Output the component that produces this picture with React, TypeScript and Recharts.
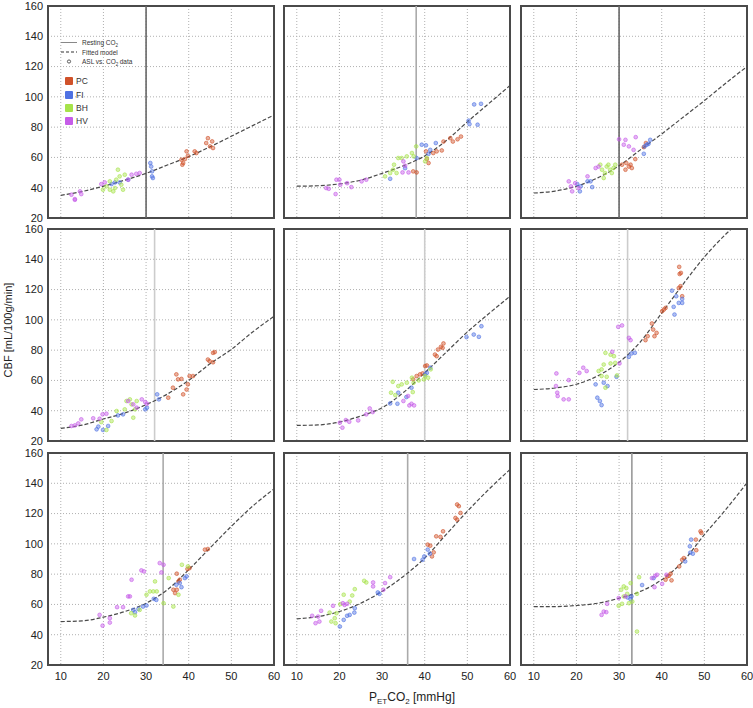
import {
  ComposedChart,
  Scatter,
  Line,
  XAxis,
  YAxis,
  ZAxis,
  CartesianGrid,
  ReferenceLine,
  ReferenceArea,
} from "recharts";

const xTicks = [10, 20, 30, 40, 50, 60];
const yTicks = [20, 40, 60, 80, 100, 120, 140, 160];

const groupNames = ["PC", "FI", "BH", "HV"];
const groupColors = ["#d0522a", "#4f72e3", "#a6e34a", "#c65ce8"];

// resting CO2 per panel (row by row)
const restValues = [30, 38, 30, 32, 40, 32, 34, 36, 33];
const restColors = ["#666", "#aaa", "#666", "#ccc", "#ccc", "#ccc", "#aaa", "#aaa", "#999"];

// fitted model curves
const fit1 = [[10, 35], [15, 37.5], [20, 41], [25, 45], [30, 49.5], [35, 55], [40, 60.5], [45, 67], [50, 74], [55, 81], [60, 88]];
const fit2 = [[10, 41], [15, 41.3], [20, 42.5], [25, 45], [30, 49.5], [35, 54.5], [40, 61], [45, 71], [50, 83.5], [55, 95.5], [60, 107.5]];
const fit3 = [[10, 36.5], [15, 37.8], [20, 41], [25, 46.5], [30, 54.5], [35, 65], [40, 75.5], [45, 86.5], [50, 97.5], [55, 109], [60, 120]];
const fit4 = [[10, 28.4], [15, 30.5], [20, 34.5], [25, 38.5], [30, 44], [35, 51], [40, 60], [45, 71], [50, 80.5], [55, 92], [60, 102.4]];
const fit5 = [[10, 30.3], [15, 30.6], [20, 32.5], [25, 36.5], [30, 42], [35, 52], [40, 65], [45, 78.5], [50, 92], [55, 104], [60, 115.6]];
const fit6 = [[10, 54], [15, 55], [20, 57.5], [25, 63], [30, 72], [35, 85.5], [40, 104.5], [45, 123.5], [50, 141.5], [55, 156.5], [56.5, 160.5]];
const fit7 = [[10, 48.7], [15, 49.1], [20, 51.6], [25, 55.3], [30, 60.8], [35, 69.7], [40, 82.9], [45, 97.3], [50, 111.6], [55, 124.9], [60, 136.3]];
const fit8 = [[10, 50.5], [15, 52], [20, 55.3], [25, 60.8], [30, 68.6], [35, 78.5], [40, 90.6], [45, 106.1], [50, 121.5], [55, 135.9], [60, 149.1]];
const fit9 = [[10, 58.6], [15, 58.6], [20, 59.3], [25, 60.8], [30, 64.1], [35, 68.6], [40, 76.3], [45, 88.4], [50, 106.1], [55, 122.6], [60, 140.3]];

// ASL vs CO2 data, [PETCO2, CBF]
const pc1 = [[38.3, 58.5], [38.7, 56.3], [39.1, 58.9], [39.5, 64], [39.8, 61], [41.8, 62.9], [41.4, 64], [44.1, 69.5], [44.5, 72.7], [45, 67.3], [45.5, 70.6], [45.7, 66.2], [38.5, 55.2]];
const fi1 = [[21.9, 42.4], [23.8, 43.5], [25.8, 45.3], [31, 56.3], [31.2, 54], [31.4, 47.5], [31.6, 46.4], [31.4, 50.8], [22.7, 43.5]];
const bh1 = [[20.7, 40.9], [21.5, 38.7], [22.7, 39.8], [23.4, 51.9], [23.8, 47.5], [23, 45.3], [25, 48.6], [24.2, 42], [21.5, 44.2], [22.3, 37.6], [19.9, 38.7], [24.6, 38.7]];
const hv1 = [[12.5, 35.4], [13.3, 32.5], [14.5, 37.6], [14.8, 35.8], [19.5, 42.4], [20.3, 43.5], [25.8, 45.3], [26.6, 48.6], [27.7, 49.2], [28.5, 49.7], [13.3, 32]];

const pc2 = [[37.3, 50.8], [38.1, 50.1], [40.5, 59], [40.9, 56.3], [42, 62.9], [42.8, 64], [44, 64.6], [44.4, 70.5], [46, 72.7], [46.6, 70.5], [47.7, 72], [48.5, 73.8], [40.3, 64]];
const fi2 = [[31.9, 45.9], [35.4, 52.9], [38.1, 59.6], [39.3, 68.4], [40.3, 68], [41.3, 65], [42.6, 69.5], [40.9, 62.4], [50.3, 84.3], [51.6, 95], [53.2, 95.4], [52.4, 81.6], [50.5, 82]];
const bh2 = [[30.7, 47.5], [31.9, 49.7], [32.8, 55.2], [33.8, 59.6], [34.6, 59.6], [35.8, 60.7], [37, 62.9], [38, 67.3], [32.6, 51.9], [33.4, 49.7], [37.4, 60.7], [40.1, 57.4], [40.5, 59.6]];
const hv2 = [[16.9, 39.8], [17.5, 39.3], [19.3, 45.3], [20, 45.3], [19.1, 35.8], [22.8, 40.4], [21.8, 43], [25.2, 44.2], [26.3, 45.3], [35, 57.4], [34.8, 50.1], [36.2, 50.1], [35.4, 54.5], [20.2, 42]];

const pc3 = [[30.7, 55.2], [31.5, 51.9], [32.3, 54], [32.7, 55.2], [33, 53], [33.8, 58.9], [35.8, 66.8], [36.3, 69.5], [31.7, 56.3]];
const fi3 = [[20.2, 42.4], [21, 40.9], [20.8, 37.6], [22.6, 44.2], [23.3, 44.2], [23.7, 40.4], [35.8, 62.4], [36, 67.3], [36.5, 68.4], [37.3, 71.6], [36.9, 69]];
const bh3 = [[25.6, 55.2], [26, 51.9], [26.7, 49.7], [27.5, 55.2], [28.3, 49.7], [28.7, 53], [29.1, 55.2], [26.4, 46.4], [27.9, 51.9], [27.1, 54]];
const hv3 = [[18.2, 44.2], [18.7, 40.9], [19, 37.6], [19.7, 43], [20.5, 39.8], [22.6, 47.5], [24.5, 53], [25.2, 54], [30, 72], [31.5, 71.6], [31.1, 68.4], [32.3, 67.3], [33.9, 73.4], [33.4, 65]];

const pc4 = [[35.2, 48.6], [36.3, 55.2], [37.1, 64], [37.5, 60.7], [38.3, 61], [38.7, 50.8], [39.5, 54], [39.8, 57.4], [40.2, 62.9], [41, 62.9], [44.5, 73.8], [44.9, 72.7], [45.7, 72], [45.7, 78.2], [46.1, 78.7]];
const fi4 = [[18.4, 27.7], [18.8, 29.5], [19.9, 27.3], [21.1, 29.9], [23.4, 36.9], [24.6, 37.6], [29.8, 40.9], [30.2, 42], [32.6, 50.8], [33, 47.5]];
const bh4 = [[19.5, 32.5], [20.7, 27.3], [21.9, 33.2], [23.1, 39.8], [25.4, 46.4], [26.2, 47.5], [26.6, 44.2], [27, 35.4], [27.4, 40.9], [25, 40.9], [27.8, 46.4]];
const hv4 = [[12.5, 29.9], [13.3, 30.3], [14.1, 31.6], [14.8, 34.3], [17.6, 35], [19.1, 34.7], [19.8, 37.6], [20.7, 38], [25.8, 46.4], [27, 44.2], [27.8, 42], [29, 47.5], [29.8, 45.7], [30.2, 44.6]];

const pc5 = [[37.3, 60.7], [38.1, 62.9], [38.9, 64], [39.5, 64.6], [40.1, 69.5], [40.5, 69.9], [42.4, 77.1], [43.1, 80.4], [43.8, 82.2], [44.4, 84.4], [44.2, 81.5], [42.8, 76]];
const fi5 = [[31.9, 44.8], [33.8, 51.9], [33.6, 44.6], [35.7, 49], [36.9, 55.2], [40.1, 64], [41.3, 68.4], [49.8, 88.6], [51.5, 90.3], [52.7, 88.8], [53.3, 95.8], [40.5, 65]];
const bh5 = [[32.5, 59.1], [32.1, 51.9], [33.1, 50.3], [33.8, 56.3], [34.6, 57.4], [35.8, 58.5], [37, 61.8], [37.4, 58.5], [38.6, 60], [39.8, 60.7], [40.1, 62.9], [40.8, 61.8], [41.4, 67.3], [37.2, 52.3]];
const hv5 = [[20.1, 32.1], [20.7, 28.8], [21.5, 33.8], [22.3, 32.7], [24.4, 33.6], [26.3, 37.6], [27.1, 41.5], [27.8, 39.1], [35, 46.4], [36.4, 43.5], [36.9, 44.6], [37.5, 43.5], [36.1, 49.7]];

const pc6 = [[36.2, 86.6], [36.7, 89.2], [37.7, 97.6], [38, 93.6], [38.3, 89.2], [38.8, 91.4], [40.1, 105.7], [40.5, 106.8], [40.9, 107.9], [44, 121], [44.4, 122.2], [44.2, 130.3], [44.5, 131], [44.1, 135], [44.8, 115.6]];
const fi6 = [[24.5, 57.4], [24.9, 48.6], [25.5, 46.4], [25.9, 43.7], [26.4, 58.5], [27.3, 56.3], [29.4, 62.4], [32.3, 75.6], [32.9, 77.8], [33.7, 78.2], [42.4, 119.3], [43.4, 115.6], [44, 111.2], [44.8, 113.8], [42.8, 108.6], [44.8, 111.2], [43, 103.5]];
const bh6 = [[25.2, 66.2], [25.9, 67.3], [26.4, 70.5], [26.8, 78.2], [28, 77], [28, 71.2], [28.8, 76], [27.1, 62.4], [26.8, 55.2], [29.5, 63.3], [29.1, 71.6], [25.9, 62.9]];
const hv6 = [[15.3, 64.6], [15.2, 56.3], [15.5, 51.9], [15.6, 49.7], [17, 47.5], [18.2, 47.5], [18.2, 60.2], [20.7, 65], [21.6, 68.4], [22.4, 66.2], [28.4, 78.9], [29.8, 95.4], [30.7, 96.3], [32.3, 88.1], [32.7, 86.6], [30.1, 71.2]];

const pc7 = [[36.4, 69.7], [36.8, 67.5], [37.2, 80.3], [37.6, 75.2], [37.9, 76.3], [39.7, 83.4], [40.2, 84], [43.8, 96.2], [44.5, 96.6], [37.2, 69.7]];
const fi7 = [[27, 56.4], [27.4, 54.9], [28.2, 57.1], [29.3, 58.6], [30.1, 59.3], [31.8, 63.7], [32.4, 63], [37.1, 73], [37.9, 74.1], [39.1, 77.4], [39.5, 78.5], [38.3, 71.4]];
const bh7 = [[26.5, 54.2], [27.4, 52.7], [28.5, 56.4], [30.1, 66.4], [30.9, 68.6], [32.1, 75.2], [32.5, 68.6], [34.1, 60.8], [35.3, 77.4], [36.4, 58.6], [37.6, 66.4], [38.4, 86.2], [39.8, 85.1], [31.7, 68.6]];
const hv7 = [[19.1, 53.1], [19.8, 46], [21.5, 50.9], [21.5, 48], [23.2, 58.2], [24.6, 58.2], [25.8, 65.3], [26.2, 65.3], [26.6, 76.3], [28.9, 82.5], [29.5, 81.8], [33.2, 87.3], [34.1, 86.2], [33.6, 81.1]];

const pc8 = [[40.7, 99.5], [41.3, 98.8], [41.7, 91.7], [42.1, 94.4], [42.7, 105], [43.7, 104.6], [44.3, 108.3], [47.2, 117.1], [47.6, 126], [48, 124.9], [48.4, 120.4], [47.6, 116]];
const fi8 = [[20.1, 45.4], [21, 49.8], [21.8, 52.5], [22.4, 53.1], [23.5, 54.6], [23.6, 57.5], [29, 67.9], [29.4, 67], [37.5, 90], [39.5, 89.5], [39.9, 91.7], [40.7, 96.2], [41.2, 93.5]];
const bh8 = [[17.7, 54.6], [18.1, 48.7], [18.9, 50.9], [19.1, 47.6], [20.2, 60.2], [21, 66.4], [22.4, 61.9], [23, 65.9], [23.6, 70.1], [25.8, 75.6], [26.3, 74.5], [19.3, 54.2]];
const hv8 = [[13.6, 52.5], [14.4, 47.6], [15, 52], [15.3, 48.7], [15.7, 55.8], [18.5, 59.1], [20.8, 60.8], [21.2, 59.7], [21.8, 60.4], [27.9, 74.5], [27.9, 71.9], [30.7, 74.1], [31.9, 78], [30.3, 69.7]];

const pc9 = [[40.9, 76.3], [41.3, 78.5], [41.7, 78.9], [42.1, 80.3], [42.3, 75.9], [44.1, 85.1], [44.8, 89.5], [45.2, 90.6], [48, 102.8], [48.1, 95.8], [49.1, 108.3], [49.3, 107.2]];
const fi9 = [[32, 64.6], [32.7, 63.5], [32.9, 65.3], [35.4, 72.8], [38.1, 77.4], [46.6, 98.4], [46.9, 102.8], [47.3, 93.5], [46.7, 94.2], [45.5, 88.4]];
const bh9 = [[29.9, 59.1], [30.7, 60.4], [30.5, 69.7], [31.1, 71.9], [31.7, 70.8], [31.9, 67], [32.7, 74.1], [33.1, 61.9], [32.3, 60.8], [34.2, 67], [34.7, 78], [34.2, 42.1], [31.1, 65.3]];
const hv9 = [[25.9, 53.1], [26.4, 55.3], [27, 54.9], [27.2, 60.4], [29.9, 64.2], [31.5, 65.3], [37.7, 77.4], [38.5, 78.9], [38.9, 79.6], [38.3, 71.4], [40.1, 73.6], [41.1, 79.6]];

const fits = [fit1, fit2, fit3, fit4, fit5, fit6, fit7, fit8, fit9];
const groups = [
  [pc1, fi1, bh1, hv1],
  [pc2, fi2, bh2, hv2],
  [pc3, fi3, bh3, hv3],
  [pc4, fi4, bh4, hv4],
  [pc5, fi5, bh5, hv5],
  [pc6, fi6, bh6, hv6],
  [pc7, fi7, bh7, hv7],
  [pc8, fi8, bh8, hv8],
  [pc9, fi9, bh9, hv9],
];

const toPts = (a: number[][]) => a.map(([x, y]) => ({ x, y }));

const FRAME_LEFT = [48, 284, 521];
const FRAME_TOP = [6, 229, 453];
const W = 226;
const H = 212;
const PAD = 8;

function Panel({ i }: { i: number }) {
  const r = Math.floor(i / 3);
  const c = i % 3;
  const yW = c === 0 ? 40 : 0;
  const xH = r === 2 ? 24 : 0;
  return (
    <div style={{ position: "absolute", left: FRAME_LEFT[c] - yW - 2, top: FRAME_TOP[r] - PAD }}>
      <ComposedChart
        width={W + yW + 2 + PAD}
        height={H + xH + 2 * PAD}
        margin={{ top: PAD, right: PAD, bottom: PAD, left: 2 }}
      >
        <CartesianGrid stroke="#b0b0b0" strokeDasharray="1 2" />
        <XAxis
          type="number"
          dataKey="x"
          domain={[7, 60]}
          ticks={xTicks}
          interval={0}
          allowDataOverflow
          hide={r !== 2}
          height={xH}
          tickLine={false}
          axisLine={false}
          tickSize={4}
          tickMargin={3}
          tick={{ fontSize: 11, fill: "#222" }}
        />
        <YAxis
          type="number"
          dataKey="y"
          domain={[20, 160]}
          ticks={yTicks}
          interval={0}
          allowDataOverflow
          hide={c !== 0}
          width={yW}
          tickLine={false}
          axisLine={false}
          tickSize={3}
          tickMargin={2}
          tick={{ fontSize: 11, fill: "#222" }}
        />
        <ZAxis range={[11, 11]} />
        <ReferenceLine x={restValues[i]} stroke={restColors[i]} strokeWidth={1.6} />
        {groups[i].map((g, k) => (
          <Scatter
            key={groupNames[k]}
            data={toPts(g)}
            fill={groupColors[k]}
            fillOpacity={0.45}
            stroke={groupColors[k]}
            strokeOpacity={0.75}
            strokeWidth={0.8}
            isAnimationActive={false}
          />
        ))}
        <Line
          data={toPts(fits[i])}
          dataKey="y"
          type="monotone"
          stroke="#4a4a4a"
          strokeWidth={1.2}
          strokeDasharray="4 2"
          dot={false}
          activeDot={false}
          isAnimationActive={false}
        />
        <ReferenceArea x1={7} x2={60} y1={20} y2={160} fill="none" stroke="#4a4a4a" strokeWidth={2} />
      </ComposedChart>
    </div>
  );
}

function LegendBox() {
  const sq = [81, 95, 108, 121];
  return (
    <svg
      width={160}
      height={130}
      style={{ position: "absolute", left: 0, top: 0, pointerEvents: "none" }}
    >
      <line x1={61} x2={77} y1={42.5} y2={42.5} stroke="#888" strokeWidth={1} />
      <text x={82} y={45} fontSize={6.5} fill="#333">
        Resting CO<tspan fontSize={4.5} dy={1.5}>2</tspan>
      </text>
      <line x1={61} x2={77} y1={52} y2={52} stroke="#333" strokeWidth={1.2} strokeDasharray="3 2" />
      <text x={82} y={54.5} fontSize={6.5} fill="#333">Fitted model</text>
      <circle cx={69} cy={61.5} r={1.6} fill="none" stroke="#333" strokeWidth={0.8} />
      <text x={82} y={64} fontSize={6.5} fill="#333">
        ASL vs. CO<tspan fontSize={4.5} dy={1.5}>2</tspan>
        <tspan dy={-1.5} dx={1.5}>data</tspan>
      </text>
      {groupNames.map((n, k) => (
        <g key={n}>
          <rect x={65} y={sq[k] - 4} width={8} height={8} rx={1} fill={groupColors[k]} />
          <text x={76} y={sq[k] + 3.2} fontSize={8.5} fill="#333">{n}</text>
        </g>
      ))}
    </svg>
  );
}

export default function App() {
  return (
    <div
      style={{
        position: "absolute",
        left: 0,
        top: 0,
        width: 753,
        height: 708,
        background: "#fff",
        fontFamily: "'Liberation Sans', Arial, sans-serif",
      }}
    >
      {[0, 1, 2, 3, 4, 5, 6, 7, 8].map((i) => (
        <Panel key={i} i={i} />
      ))}
      <LegendBox />
      <div
        style={{
          position: "absolute",
          left: 8 - 100,
          top: 331 - 7,
          width: 200,
          textAlign: "center",
          fontSize: 11,
          color: "#222",
          transform: "rotate(-90deg)",
          whiteSpace: "nowrap",
        }}
      >
        CBF [mL/100g/min]
      </div>
      <div
        style={{
          position: "absolute",
          left: 412 - 100,
          top: 690,
          width: 200,
          textAlign: "center",
          fontSize: 12,
          color: "#222",
          whiteSpace: "nowrap",
        }}
      >
        P<sub style={{ fontSize: 8 }}>ET</sub>CO<sub style={{ fontSize: 8 }}>2</sub> [mmHg]
      </div>
    </div>
  );
}
